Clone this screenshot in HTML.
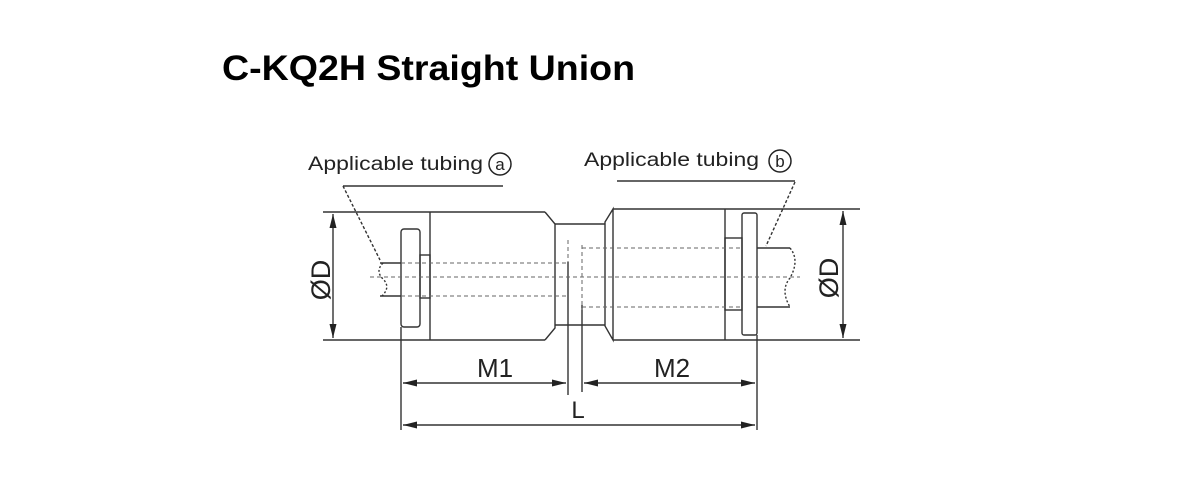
<!DOCTYPE html>
<html><head><style>html,body{margin:0;padding:0;background:#fff}svg{display:block}</style></head>
<body>
<svg width="1200" height="500" viewBox="0 0 1200 500" xmlns="http://www.w3.org/2000/svg">
<defs>
<marker id="ar" viewBox="0 0 14 8" refX="14" refY="4" markerWidth="14" markerHeight="8" orient="auto-start-reverse" markerUnits="userSpaceOnUse"><path d="M0,0.5 L14,4 L0,7.5 z" fill="#222"/></marker>
</defs>
<text x="222" y="80" font-family="Liberation Sans, sans-serif" font-weight="bold" font-size="35" textLength="413" lengthAdjust="spacingAndGlyphs" fill="#000">C-KQ2H Straight Union</text>
<g font-family="Liberation Sans, sans-serif" fill="#222">
<text x="308" y="170" font-size="19" textLength="175" lengthAdjust="spacingAndGlyphs">Applicable tubing</text>
<circle cx="500" cy="164" r="11" fill="none" stroke="#222" stroke-width="1.5"/>
<text x="500" y="170" font-size="17" text-anchor="middle">a</text>
<text x="584" y="166" font-size="19" textLength="175" lengthAdjust="spacingAndGlyphs">Applicable tubing</text>
<circle cx="780" cy="161" r="11" fill="none" stroke="#222" stroke-width="1.5"/>
<text x="780" y="167" font-size="17" text-anchor="middle">b</text>
<text x="495" y="377" font-size="26" text-anchor="middle">M1</text>
<text x="672" y="377" font-size="26" text-anchor="middle">M2</text>
<text x="578" y="418" font-size="24" text-anchor="middle">L</text>
<text transform="translate(330,280) rotate(-90)" font-size="27" text-anchor="middle">ØD</text>
<text transform="translate(838,278) rotate(-90)" font-size="27" text-anchor="middle">ØD</text>
</g>
<g stroke="#333" stroke-width="1.4" fill="none">
<line x1="343" y1="186" x2="503" y2="186"/>
<line x1="617" y1="181" x2="795" y2="181"/>
<line x1="343" y1="186" x2="380" y2="260" stroke-dasharray="3,2"/>
<line x1="795" y1="182" x2="766" y2="246" stroke-dasharray="3,2"/>
<line x1="323" y1="212" x2="545" y2="212"/>
<line x1="323" y1="340" x2="545" y2="340"/>
<line x1="430" y1="212" x2="430" y2="340"/>
<path d="M545,212 L555,224 L555,328 L545,340"/>
<rect x="401" y="229" width="19" height="98" rx="3"/>
<rect x="420" y="255" width="10" height="43"/>
<line x1="380" y1="263" x2="401" y2="263"/>
<line x1="380" y1="296" x2="401" y2="296"/>
<path d="M383,263 q-8,8 0,16 q8,8 -1,17" stroke-dasharray="2,2"/>
<line x1="555" y1="224" x2="605" y2="224"/>
<line x1="555" y1="325" x2="605" y2="325"/>
<path d="M605,222 L613,209 L613,340 L605,326 Z"/>
<line x1="613" y1="209" x2="860" y2="209"/>
<line x1="613" y1="340" x2="860" y2="340"/>
<line x1="725" y1="209" x2="725" y2="340"/>
<rect x="742" y="213" width="15" height="122" rx="2"/>
<rect x="725" y="238" width="17" height="72"/>
<line x1="757" y1="248" x2="790" y2="248"/>
<line x1="757" y1="307" x2="790" y2="307"/>
<path d="M790,248 q10,12 0,30 q-10,12 0,29" stroke-dasharray="2,2"/>
<line x1="401" y1="327" x2="401" y2="430"/>
<line x1="757" y1="335" x2="757" y2="430"/>
<line x1="568" y1="262" x2="568" y2="395"/>
<line x1="582" y1="305" x2="582" y2="392"/>
<line x1="403" y1="383" x2="566" y2="383" marker-start="url(#ar)" marker-end="url(#ar)"/>
<line x1="584" y1="383" x2="755" y2="383" marker-start="url(#ar)" marker-end="url(#ar)"/>
<line x1="403" y1="425" x2="755" y2="425" marker-start="url(#ar)" marker-end="url(#ar)"/>
<line x1="333" y1="214" x2="333" y2="338" marker-start="url(#ar)" marker-end="url(#ar)"/>
<line x1="843" y1="211" x2="843" y2="338" marker-start="url(#ar)" marker-end="url(#ar)"/>
</g>
<g stroke="#666" stroke-width="1" fill="none" stroke-dasharray="4,3">
<line x1="370" y1="277" x2="800" y2="277"/>
<line x1="401" y1="263" x2="568" y2="263"/>
<line x1="401" y1="296" x2="568" y2="296"/>
<line x1="582" y1="248" x2="742" y2="248"/>
<line x1="582" y1="307" x2="742" y2="307"/>
<line x1="582" y1="245" x2="582" y2="310"/>
<line x1="568" y1="240" x2="568" y2="262"/>
</g>
</svg>
</body></html>
